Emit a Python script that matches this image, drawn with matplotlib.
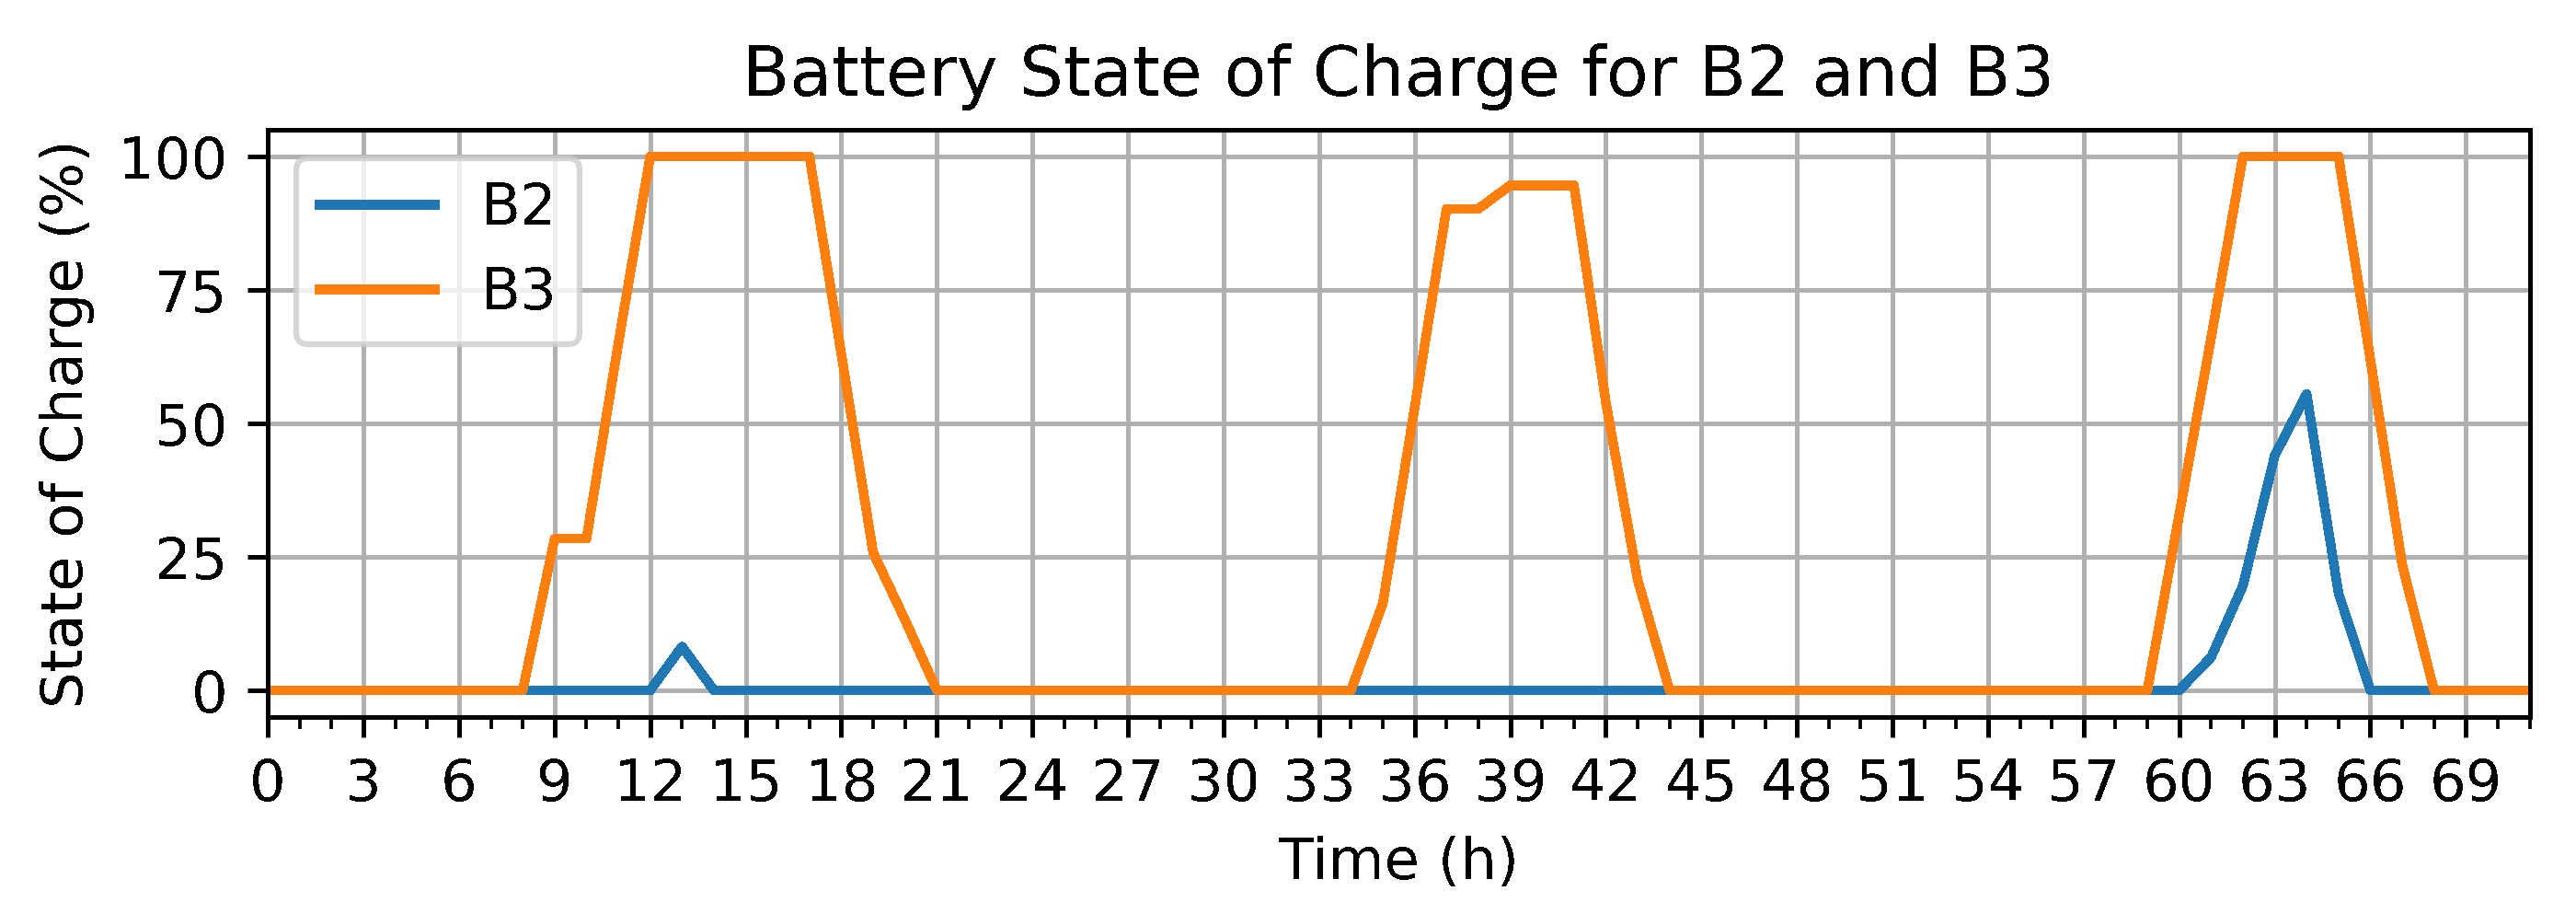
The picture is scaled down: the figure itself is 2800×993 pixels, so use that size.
import matplotlib

matplotlib.use("Agg")
import matplotlib.pyplot as plt
import numpy as np
from matplotlib.ticker import MultipleLocator

# hourly state of charge (%), hours 0..71
hours = np.arange(72)
soc_b2 = (
    [0] * 13 + [8.2]                                  # 0..13
    + [0] * 47                                        # 14..60
    + [6.2, 19.6, 44.0, 55.5, 18.2]                   # 61..65
    + [0] * 6                                         # 66..71
)
soc_b3 = (
    [0] * 9                                           # 0..8
    + [28.4, 28.4, 65.0, 100, 100, 100, 100, 100, 100, 63.0, 25.8, 13.2]  # 9..20
    + [0] * 14                                        # 21..34
    + [16.3, 53.0, 90.2, 90.2, 94.6, 94.6, 94.6, 54.0, 20.7]  # 35..43
    + [0] * 16                                        # 44..59
    + [32.9, 66.0, 100, 100, 100, 100, 62.0, 23.5]    # 60..67
    + [0] * 4                                         # 68..71
)
series_names = ["B2", "B3"]

# the reference looks rendered without anti-aliasing
plt.rcParams["lines.antialiased"] = False
plt.rcParams["text.antialiased"] = False

DPI = 450
fig = plt.figure(figsize=(2800 / DPI, 993 / DPI), dpi=DPI)
ax = fig.add_axes([0.104, 0.2155, 0.878, 0.6425])

ax.plot(hours, soc_b2, label=series_names[0], color="#1f77b4", linewidth=1.5)
ax.plot(hours, soc_b3, label=series_names[1], color="#ff7f0e", linewidth=1.5)

ax.set_xlim(0, 71)
ax.set_ylim(-5, 105)
ax.xaxis.set_major_locator(MultipleLocator(3))
ax.xaxis.set_minor_locator(MultipleLocator(1))
ax.yaxis.set_major_locator(MultipleLocator(25))
ax.grid(True, which="major")
ax.set_title("Battery State of Charge for B2 and B3")
ax.set_xlabel("Time (h)")
ax.set_ylabel("State of Charge (%)")
ax.legend(loc="upper left")

fig.savefig("out.png", dpi=DPI)
